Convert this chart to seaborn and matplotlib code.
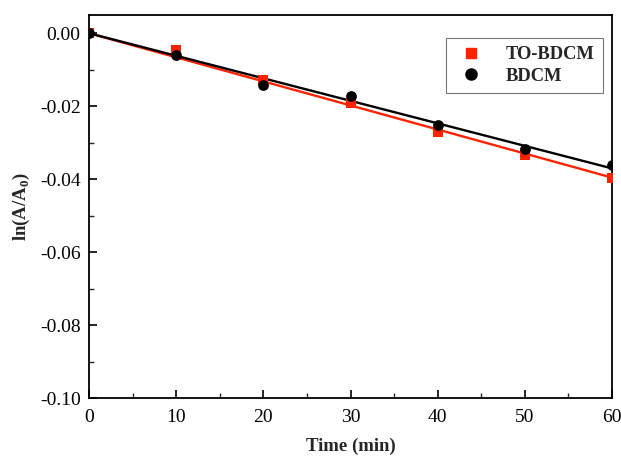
import numpy as np
import pandas as pd
import matplotlib
matplotlib.use("Agg")
import matplotlib.pyplot as plt
import seaborn as sns
from matplotlib.ticker import MultipleLocator, FuncFormatter

time = [0, 10, 20, 30, 40, 50, 60]
to_bdcm = [0.0, -0.0047, -0.0127, -0.0190, -0.0270, -0.0334, -0.0397]
bdcm = [0.0, -0.0060, -0.0142, -0.0172, -0.0252, -0.0316, -0.0362]

sns.set_theme(style="ticks")
plt.rcParams['font.family'] = ['Liberation Serif', 'DejaVu Serif']
plt.rcParams['mathtext.fontset'] = 'custom'
plt.rcParams['mathtext.rm'] = 'Liberation Serif'
plt.rcParams['mathtext.bf'] = 'Liberation Serif:bold'

fig = plt.figure(figsize=(6.21, 4.58), dpi=100)
ax = fig.add_axes([89/621, 1-398/458, (612-89)/621, (398-15)/458])

t = np.array(time, dtype=float)

def origin_fit(y):
    y = np.array(y, dtype=float)
    k = (t @ y) / (t @ t)
    return k * t

red = '#ff2200'
sns.lineplot(x=t, y=origin_fit(to_bdcm), ax=ax, color=red, lw=1.7, zorder=2)
sns.lineplot(x=t, y=origin_fit(bdcm), ax=ax, color='black', lw=1.7, zorder=2)
sns.scatterplot(x=time, y=to_bdcm, ax=ax, marker='s', color=red, s=55, linewidth=0, zorder=3)
sns.scatterplot(x=time, y=bdcm, ax=ax, marker='o', color='black', s=60, linewidth=0, zorder=3)

ax.set_xlim(0, 60)
ax.set_ylim(-0.10, 0.005)
ax.xaxis.set_major_locator(MultipleLocator(10))
ax.xaxis.set_minor_locator(MultipleLocator(5))
ax.yaxis.set_major_locator(MultipleLocator(0.02))
ax.yaxis.set_minor_locator(MultipleLocator(0.01))
ax.yaxis.set_major_formatter(FuncFormatter(lambda v, p: '%.2f' % (0.0 if abs(v) < 1e-9 else v)))
ax.tick_params(which='major', direction='in', length=6, width=1.2, labelsize=14, colors='black')
ax.tick_params(axis='x', which='major', pad=8)
ax.tick_params(axis='y', which='major', pad=6)
ax.tick_params(which='minor', direction='in', length=3.5, width=1.0)
for s in ax.spines.values():
    s.set_linewidth(1.3)
    s.set_color('black')

ax.set_xlabel('Time (min)', fontsize=13.5, fontweight='bold', labelpad=8)
ax.set_ylabel(r'ln(A/A$_\mathbf{0}$)', fontsize=13.5, fontweight='bold', labelpad=6)

handles = [plt.Line2D([], [], marker='s', ls='none', color=red, markersize=7.5),
           plt.Line2D([], [], marker='o', ls='none', color='black', markersize=8)]
leg = ax.legend(handles, ['TO-BDCM', 'BDCM'], loc='upper right', bbox_to_anchor=(0.983, 0.94),
                borderaxespad=0, frameon=True, fancybox=False, edgecolor='#555555',
                prop=dict(weight='bold', size=13.3),
                handletextpad=1.0, borderpad=0.45, labelspacing=0.25, handlelength=1.8)
leg.get_frame().set_linewidth(0.8)

fig.savefig('out.png', dpi=100)
